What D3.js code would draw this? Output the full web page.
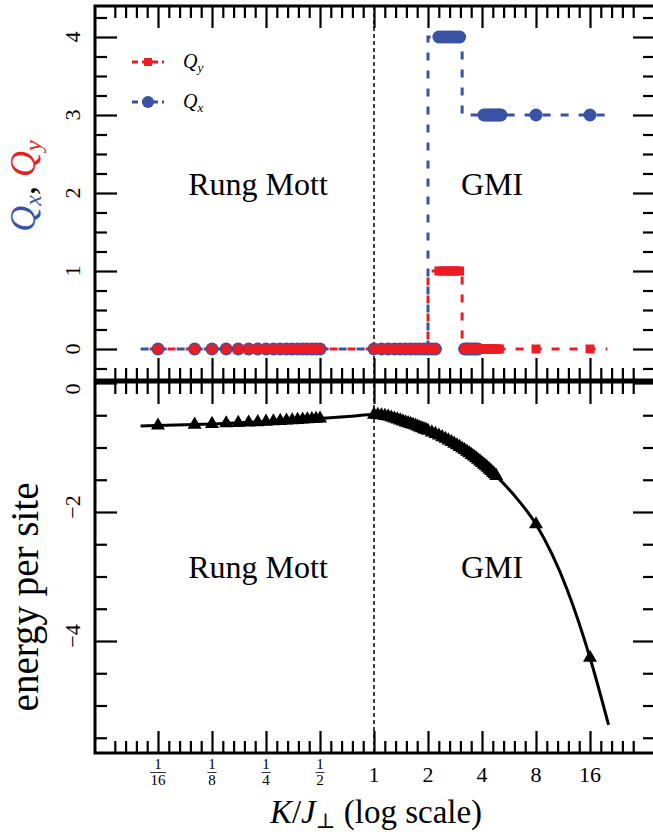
<!DOCTYPE html>
<html><head><meta charset="utf-8">
<script src="https://cdnjs.cloudflare.com/ajax/libs/d3/7.8.5/d3.min.js"></script>
<style>
body{margin:0;background:#fff}
svg{display:block}
text{font-family:"Liberation Serif","DejaVu Serif",serif;fill:#000}
</style>
</head><body><div id="chart"></div>
<script>
// ---------------- data ----------------
const xMajorTicks = [1/16, 1/8, 1/4, 1/2, 1, 2, 4, 8, 16];
const xTickLabels = [["1","16"],["1","8"],["1","4"],["1","2"],"1","2","4","8","16"];
const yQTicks = [0, 1, 2, 3, 4];
const yETicks = [0, -2, -4];

// theoretical step lines (dashed)
const qLineK = [0.05, 2, 2, 3.1, 3.1, 20];
const qxLine = [0, 0, 4, 4, 3, 3];
const qyLine = [0, 0, 1, 1, 0, 0];

// numerical Q_x points
const qxK = [0.0625,0.1,0.125,0.15,0.175,0.2,0.225,0.25,0.275,0.3,0.325,0.35,0.375,0.4,0.425,0.45,0.475,0.5,
             1.0,1.1,1.2,1.3,1.4,1.5,1.6,1.7,1.8,1.9,2.0,2.1,2.2,
             2.3,2.4,2.5,2.6,2.7,2.8,2.9,3.0,
             3.2,3.3,3.4,3.5,3.6,3.7,3.8,
             4.1,4.2,4.3,4.4,4.5,4.6,4.7,4.8,4.9,5.0,5.1,
             8,16];
const qxV = [0,0,0,0,0,0,0,0,0,0,0,0,0,0,0,0,0,0,
             0,0,0,0,0,0,0,0,0,0,0,0,0,
             4,4,4,4,4,4,4,4,
             0,0,0,0,0,0,0,
             3,3,3,3,3,3,3,3,3,3,3,
             3,3];
// numerical Q_y points
const qyK = [0.0625,0.1,0.125,0.15,0.175,0.2,0.225,0.25,0.275,0.3,0.325,0.35,0.375,0.4,0.425,0.45,0.475,0.5,
             1.0,1.1,1.2,1.3,1.4,1.5,1.6,1.7,1.8,1.9,2.0,2.1,2.2,
             2.3,2.4,2.5,2.6,2.7,2.8,2.9,3.0,
             3.2,3.3,3.4,3.5,3.6,3.7,3.8,3.9,4.0,4.1,4.2,4.3,4.4,4.5,4.6,4.7,4.8,4.9,5.0,
             8,16];
const qyV = [0,0,0,0,0,0,0,0,0,0,0,0,0,0,0,0,0,0,
             0,0,0,0,0,0,0,0,0,0,0,0,0,
             1,1,1,1,1,1,1,1,
             0,0,0,0,0,0,0,0,0,0,0,0,0,0,0,0,0,0,0,
             0,0];

// energy curve (solid line)
const eLineK = [0.05,0.0625,0.1,0.125,0.25,0.5,0.75,1,1.25,1.5,2,3,4,5,6,8,12,16,20.3];
const eLineV = [-0.665,-0.66,-0.645,-0.635,-0.60,-0.55,-0.515,-0.49,-0.54,-0.61,-0.74,-0.99,-1.24,-1.49,-1.73,-2.19,-3.22,-4.26,-5.30];
// energy markers (triangles)
const eK = [0.0625,0.1,0.125,0.15,0.175,0.2,0.225,0.25,0.275,0.3,0.325,0.35,0.375,0.4,0.425,0.45,0.475,0.5,
            1.0,1.05,1.1,1.15,1.2,1.25,1.3,1.35,1.4,1.45,1.5,1.55,1.6,1.65,1.7,1.75,1.8,1.85,1.9,1.95,
            2.0,2.1,2.2,2.3,2.4,2.5,2.6,2.7,2.8,2.9,
            3.0,3.1,3.2,3.3,3.4,3.5,3.6,3.7,3.8,3.9,4.0,4.1,4.2,4.3,4.4,4.5,4.6,4.7,4.8,
            8,16];
const eV = [-0.66,-0.645,-0.635,-0.625,-0.618,-0.612,-0.606,-0.60,-0.594,-0.588,-0.582,-0.577,-0.572,-0.567,-0.563,-0.559,-0.555,-0.55,
            -0.49,-0.494,-0.50,-0.51,-0.52,-0.535,-0.55,-0.565,-0.58,-0.595,-0.61,-0.622,-0.635,-0.648,-0.66,-0.675,-0.69,-0.702,-0.715,-0.728,
            -0.74,-0.765,-0.79,-0.815,-0.84,-0.865,-0.89,-0.915,-0.94,-0.965,
            -0.99,-1.015,-1.04,-1.065,-1.09,-1.115,-1.14,-1.165,-1.19,-1.215,-1.24,-1.265,-1.29,-1.315,-1.34,-1.365,-1.39,-1.415,-1.44,
            -2.19,-4.26];

// ---------------- layout ----------------
const W = 653, H = 834;
const L = 95, R = 655;
const topY0 = 6, topY1 = 380, botY0 = 382, botY1 = 753;
const BLUE = "#3953a4", RED = "#ec1c24", TXT = "#333";

const x = d3.scaleLog().base(2)
  .domain([2 ** ((L - 374) / 54), 2 ** ((R - 374) / 54)]).range([L, R]);
const yQ = d3.scaleLinear().domain([0, 4]).range([349, 37]);
const yE = d3.scaleLinear().domain([0, -4]).range([383, 641]);

const svg = d3.select("#chart").append("svg").attr("width", W).attr("height", H);

// minor tick positions (1/5 octave)
const xMinor = d3.range(-24, 25).filter(k => k % 5 !== 0).map(k => 2 ** (k / 5));
const yQMinor = d3.range(-1, 18).map(k => k * 0.25).filter(v => v % 1 !== 0);
const yEMinor = d3.range(1, 12).map(k => -k * 0.5).filter(v => v % 2 !== 0);

function axisG(gen, scale, tr, vals, size) {
  const g = svg.append("g").attr("transform", tr)
    .call(gen(scale).tickValues(vals).tickSize(size).tickFormat(""));
  g.select(".domain").remove();
  g.selectAll(".tick line").attr("stroke-width", 2.2);
  return g;
}
const MJ = 22, MN = 12;
[[d3.axisBottom, topY0], [d3.axisTop, topY1], [d3.axisBottom, botY0], [d3.axisTop, botY1]].forEach(([gen, yy]) => {
  axisG(gen, x, `translate(0,${yy})`, xMajorTicks, MJ);
  axisG(gen, x, `translate(0,${yy})`, xMinor, MN);
});
axisG(d3.axisRight, yQ, `translate(${L},0)`, yQTicks, MJ);
axisG(d3.axisRight, yQ, `translate(${L},0)`, yQMinor, MN);
axisG(d3.axisLeft, yQ, `translate(${R},0)`, yQTicks, MJ);
axisG(d3.axisLeft, yQ, `translate(${R},0)`, yQMinor, MN);
axisG(d3.axisRight, yE, `translate(${L},0)`, yETicks, MJ);
axisG(d3.axisRight, yE, `translate(${L},0)`, yEMinor, MN);
axisG(d3.axisLeft, yE, `translate(${R},0)`, yETicks, MJ);
axisG(d3.axisLeft, yE, `translate(${R},0)`, yEMinor, MN);

// frames
svg.append("rect").attr("x", L).attr("y", topY0).attr("width", R - L).attr("height", topY1 - topY0)
  .attr("fill", "none").attr("stroke", "#000").attr("stroke-width", 3);
svg.append("rect").attr("x", L).attr("y", botY0).attr("width", R - L).attr("height", botY1 - botY0)
  .attr("fill", "none").attr("stroke", "#000").attr("stroke-width", 3);

// vertical dotted line at K=1
svg.append("line").attr("x1", x(1)).attr("x2", x(1)).attr("y1", topY0).attr("y2", botY1)
  .attr("stroke", "#000").attr("stroke-width", 1.5).attr("stroke-dasharray", "4,3");

// ---------------- top panel ----------------
const qLine = vals => d3.line().x((d, i) => x(qLineK[i])).y((d, i) => yQ(vals[i]))(vals);
svg.append("path").attr("d", qLine(qxLine)).attr("fill", "none").attr("stroke", BLUE)
  .attr("stroke-width", 3).attr("stroke-dasharray", "8,10");
svg.append("path").attr("d", qLine(qyLine)).attr("fill", "none").attr("stroke", RED)
  .attr("stroke-width", 3).attr("stroke-dasharray", "8,10").attr("stroke-dashoffset", 9);

svg.append("g").selectAll("circle").data(qxK).join("circle")
  .attr("cx", d => x(d)).attr("cy", (d, i) => yQ(qxV[i])).attr("r", 6.5).attr("fill", BLUE);
svg.append("g").selectAll("rect").data(qyK).join("rect")
  .attr("x", d => x(d) - 4.5).attr("y", (d, i) => yQ(qyV[i]) - 4.5)
  .attr("width", 9).attr("height", 9).attr("fill", RED);

// legend
const leg = [{c: RED, sub: "y", y: 62, m: "sq"}, {c: BLUE, sub: "x", y: 102, m: "ci"}];
leg.forEach(e => {
  svg.append("line").attr("x1", 132).attr("x2", 164).attr("y1", e.y).attr("y2", e.y)
    .attr("stroke", e.c).attr("stroke-width", 3).attr("stroke-dasharray", "6,4");
  if (e.m === "sq") svg.append("rect").attr("x", 144).attr("y", e.y - 4).attr("width", 8).attr("height", 8).attr("fill", e.c);
  else svg.append("circle").attr("cx", 148).attr("cy", e.y).attr("r", 6).attr("fill", e.c);
  const t = svg.append("text").attr("x", 183).attr("y", e.y + 6).attr("font-size", 20).attr("font-style", "italic").attr("fill", TXT);
  t.append("tspan").text("Q");
  t.append("tspan").attr("dy", 4).attr("font-size", 13).text(e.sub);
});

// region labels
[[258, 195], [258, 578]].forEach(([cx, cy]) =>
  svg.append("text").attr("x", cx).attr("y", cy).attr("text-anchor", "middle").attr("font-size", 32).attr("fill", TXT).text("Rung Mott"));
[[492, 195], [492, 578]].forEach(([cx, cy]) =>
  svg.append("text").attr("x", cx).attr("y", cy).attr("text-anchor", "middle").attr("font-size", 32).attr("fill", TXT).text("GMI"));

// ---------------- bottom panel ----------------
svg.append("path").datum(eLineK)
  .attr("d", d3.line().x(d => x(d)).y((d, i) => yE(eLineV[i])).curve(d3.curveMonotoneX))
  .attr("fill", "none").attr("stroke", "#000").attr("stroke-width", 3);
svg.append("g").selectAll("path").data(eK).join("path")
  .attr("d", d3.symbol().type(d3.symbolTriangle).size(85))
  .attr("transform", (d, i) => `translate(${x(d)},${yE(eV[i])})`).attr("fill", "#000");

// ---------------- tick labels ----------------
xMajorTicks.forEach((v, i) => {
  const lab = xTickLabels[i], cx = x(v);
  if (Array.isArray(lab)) {
    svg.append("text").attr("x", cx).attr("y", 769).attr("text-anchor", "middle").attr("font-size", 15).attr("fill", TXT).text(lab[0]);
    const hw = lab[1].length > 1 ? 8 : 4.5;
    svg.append("line").attr("x1", cx - hw).attr("x2", cx + hw).attr("y1", 772.5).attr("y2", 772.5).attr("stroke", TXT).attr("stroke-width", 1);
    svg.append("text").attr("x", cx).attr("y", 785).attr("text-anchor", "middle").attr("font-size", 15).attr("fill", TXT).text(lab[1]);
  } else {
    svg.append("text").attr("x", cx).attr("y", 782).attr("text-anchor", "middle").attr("font-size", 22).attr("fill", TXT).text(lab);
  }
});
yQTicks.forEach(v => {
  svg.append("text").attr("transform", `translate(72,${yQ(v)}) rotate(-90)`).attr("dy", "0.35em")
    .attr("text-anchor", "middle").attr("font-size", 22).attr("fill", TXT).text(v);
});
yETicks.forEach(v => {
  const yy = v === 0 ? yE(v) + 6 : yE(v) - 5;
  svg.append("text").attr("transform", `translate(72,${yy}) rotate(-90)`).attr("dy", "0.35em")
    .attr("text-anchor", "middle").attr("font-size", 22).attr("fill", TXT).text(v === 0 ? "0" : "\u2212" + Math.abs(v));
});

// axis titles
const xt = svg.append("text").attr("x", 376).attr("y", 823).attr("text-anchor", "middle").attr("font-size", 33);
xt.append("tspan").attr("font-style", "italic").text("K");
xt.append("tspan").text("/");
xt.append("tspan").attr("font-style", "italic").text("J");
xt.append("tspan").attr("dy", 5).attr("font-size", 21).text("\u22A5");
xt.append("tspan").attr("dy", -5).text(" (log scale)");

const yt = svg.append("text").attr("transform", "translate(35,186) rotate(-90)").attr("text-anchor", "middle").attr("font-size", 36);
yt.append("tspan").attr("font-style", "italic").attr("fill", BLUE).text("Q");
yt.append("tspan").attr("font-style", "italic").attr("fill", BLUE).attr("font-size", 24).attr("dy", 6).text("x");
yt.append("tspan").attr("dy", -6).text(", ");
yt.append("tspan").attr("font-style", "italic").attr("fill", RED).text("Q");
yt.append("tspan").attr("font-style", "italic").attr("fill", RED).attr("font-size", 24).attr("dy", 6).text("y");

svg.append("text").attr("transform", "translate(38,597) rotate(-90)").attr("text-anchor", "middle")
  .attr("font-size", 39).text("energy per site");
</script>
</body></html>
